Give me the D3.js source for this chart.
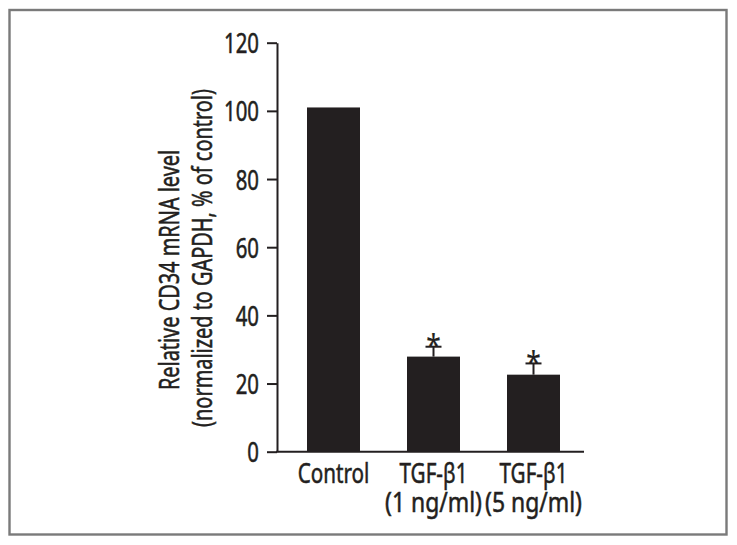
<!DOCTYPE html>
<html>
<head>
<meta charset="utf-8">
<script src="https://cdn.jsdelivr.net/npm/d3@7/dist/d3.min.js"></script>
<style>
  html, body { margin: 0; padding: 0; background: #fff; }
  text { font-family: "Noto Sans", sans-serif; fill: #231f20; stroke: #231f20; stroke-width: 0.55px; }
</style>
</head>
<body>
<svg id="chart" width="737" height="545"></svg>
<script>
const categories = ["Control", "TGF-β1|(1 ng/ml)", "TGF-β1|(5 ng/ml)"];
const values = [101, 27.9, 22.6];
const errors = [0, 2.9, 3.3];
const significant = [false, true, true];
const yTicks = [0, 20, 40, 60, 80, 100, 120];
const yTitle = ["Relative CD34 mRNA level", "(normalized to GAPDH, % of control)"];

const svg = d3.select("#chart");
const ink = "#231f20";
const FS = 28;

// horizontal condensation factor so that `sample` spans `target` px at size FS
function textWidth(sample, size = FS) {
  const t = svg.append("text").attr("font-size", size).text(sample);
  const w = t.node().getComputedTextLength();
  t.remove();
  return w;
}
const SX_TICK = 35 / textWidth("100");
const SX_LAB = 68 / textWidth("TGF-β1");
const SX_LAB2 = 97 / textWidth("(1 ng/ml)");
const SX_TITLE = 338 / textWidth(yTitle[1]);

function condText(parent, x, y, lines, sx, opts = {}) {
  const g = parent.append("g")
    .attr("transform", `translate(${x},${y}) rotate(${opts.rotate || 0}) scale(${sx},1)`);
  const t = g.append("text").attr("text-anchor", opts.anchor || "middle")
    .attr("font-size", opts.size || FS);
  [].concat(lines).forEach((l, k) => {
    const ts = t.append("tspan").attr("x", 0).attr("y", k * (opts.lh || 0)).text(l);
    if (k > 0 && opts.sx2) {
      ts.attr("textLength", textWidth(l) * opts.sx2 / sx).attr("lengthAdjust", "spacingAndGlyphs");
    }
  });
  return t;
}

svg.append("rect").attr("x", 9.5).attr("y", 10).attr("width", 717).attr("height", 524.5)
  .attr("fill", "none").attr("stroke", "#7a7a7a").attr("stroke-width", 2.4);

const y = d3.scaleLinear().domain([0, 120]).range([451.7, 42.7]);
const x = d3.scaleBand().domain(categories).range([283.5, 583.5])
  .paddingInner(0.47).paddingOuter(0.235);

const axisX0 = 277, axisX1 = 584;

// y axis
const yAxis = svg.append("g").attr("transform", `translate(${axisX0},0)`)
  .call(d3.axisLeft(y).tickValues(yTicks).tickSize(10).tickPadding(8).tickSizeOuter(0));
yAxis.select(".domain").attr("stroke", ink).attr("stroke-width", 2);
yAxis.selectAll(".tick line").attr("stroke", ink).attr("stroke-width", 2);
yAxis.selectAll(".tick text")
  .attr("font-size", FS).attr("fill", ink).attr("font-family", "Noto Sans, sans-serif")
  .attr("x", -18 / SX_TICK).attr("dy", "0.36em")
  .attr("transform", `scale(${SX_TICK},1)`);

// x axis baseline
svg.append("line").attr("x1", axisX0 - 1).attr("x2", axisX1)
  .attr("y1", y(0)).attr("y2", y(0)).attr("stroke", ink).attr("stroke-width", 2);

// bars
svg.selectAll("rect.bar").data(values).enter().append("rect")
  .attr("class", "bar")
  .attr("x", (d, i) => x(categories[i]))
  .attr("width", x.bandwidth())
  .attr("y", d => y(d))
  .attr("height", d => y(0) - y(d))
  .attr("fill", ink);

// error bars + significance marks
values.forEach((d, i) => {
  if (errors[i] <= 0) return;
  const cx = x(categories[i]) + x.bandwidth() / 2;
  const top = y(d + errors[i]);
  svg.append("line").attr("x1", cx).attr("x2", cx).attr("y1", y(d)).attr("y2", top)
    .attr("stroke", ink).attr("stroke-width", 2);
  svg.append("line").attr("x1", cx - 8).attr("x2", cx + 8).attr("y1", top).attr("y2", top)
    .attr("stroke", ink).attr("stroke-width", 2);
  if (significant[i]) {
    condText(svg, cx, top + 9.5, "*", 0.85, { size: 31 }).style("stroke-width", "0.2px");
  }
});

// x labels
categories.forEach(c => {
  const cx = x(c) + x.bandwidth() / 2;
  condText(svg, cx, 483, c.split("|"), SX_LAB, { lh: 28.5, sx2: SX_LAB2 });
});

// y title
const yTitleX = [179, 212];
const yTitleY = [270, 258];
yTitle.forEach((l, k) => condText(svg, yTitleX[k], yTitleY[k], l, SX_TITLE, { rotate: -90 }));
</script>
</body>
</html>
